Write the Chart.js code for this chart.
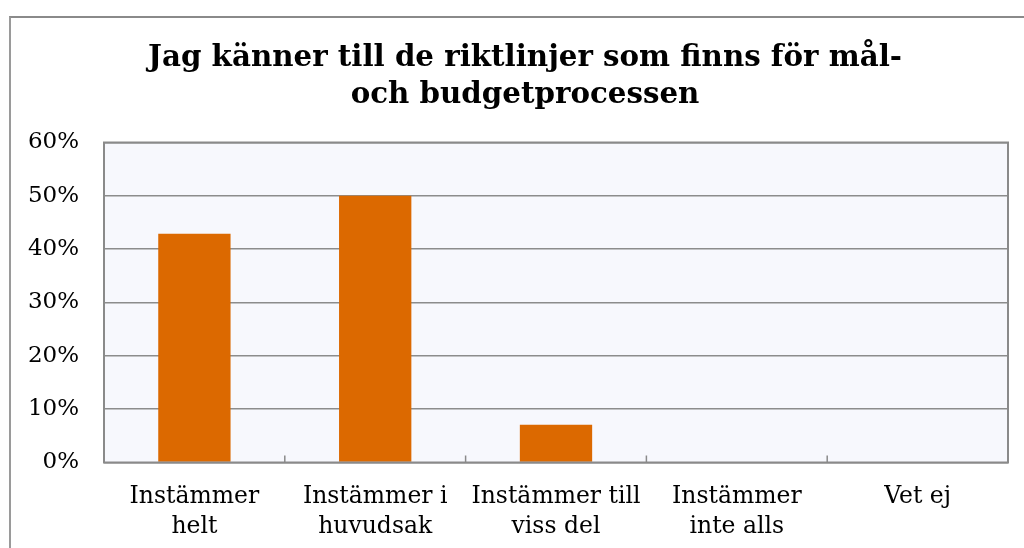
<!DOCTYPE html>
<html>
<head>
<meta charset="utf-8">
<script src="https://cdn.jsdelivr.net/npm/chart.js@4/dist/chart.umd.min.js"></script>
<style>
  html, body { margin: 0; padding: 0; background: #ffffff; }
  #wrap { position: relative; width: 1024px; height: 548px; overflow: hidden; }
  #frame { position: absolute; left: 9px; top: 16px; width: 1100px; height: 600px;
           border-top: 2px solid #8a8a8a; border-left: 2px solid #9a9a9a; box-sizing: border-box; }
  canvas { position: absolute; left: 0; top: 0; }
</style>
</head>
<body>
<div id="wrap">
  <div id="frame"></div>
  <canvas id="c" width="1024" height="548"></canvas>
</div>
<script>
const titleLines = ["Jag känner till de riktlinjer som finns för mål-", "och budgetprocessen"];
const categories = [["Instämmer", "helt"], ["Instämmer i", "huvudsak"], ["Instämmer till", "viss del"], ["Instämmer", "inte alls"], ["Vet ej"]];
const values = [42.9, 50.0, 7.1, 0, 0];
const yTicks = [0, 10, 20, 30, 40, 50, 60];

const FONT = "'DejaVu Serif', Georgia, serif";

const plotBox = {
  id: 'plotBox',
  afterLayout(chart) {
    // centre the title over the outer frame rather than the whole canvas
    if (chart.titleBlock) {
      chart.titleBlock.left = 42;
      chart.titleBlock.right = 1008;
      chart.titleBlock.width = 966;
    }
  },
  beforeDraw(chart) {
    const a = chart.chartArea, ctx = chart.ctx;
    ctx.save();
    ctx.fillStyle = '#f7f8fd';
    ctx.fillRect(a.left, a.top, a.right - a.left, a.bottom - a.top);
    ctx.restore();
  },
  afterDraw(chart) {
    const a = chart.chartArea, ctx = chart.ctx;
    const xs = chart.scales.x;
    ctx.save();
    ctx.strokeStyle = '#8a8a8a';
    ctx.lineWidth = 2;
    ctx.strokeRect(a.left, a.top, a.right - a.left, a.bottom - a.top);
    // inward tick marks at category boundaries
    ctx.lineWidth = 1.5;
    const n = categories.length;
    for (let i = 1; i < n; i++) {
      const x = (xs.getPixelForValue(i - 1) + xs.getPixelForValue(i)) / 2;
      ctx.beginPath();
      ctx.moveTo(x, a.bottom);
      ctx.lineTo(x, a.bottom - 7);
      ctx.stroke();
    }
    ctx.restore();
  }
};

new Chart(document.getElementById('c'), {
  type: 'bar',
  data: {
    labels: categories,
    datasets: [{
      data: values,
      backgroundColor: '#dc6900',
      borderWidth: 0,
      barPercentage: 0.4,
      categoryPercentage: 1.0
    }]
  },
  options: {
    responsive: false,
    animation: false,
    events: [],
    layout: { padding: { left: 0, right: 16, top: 39.5, bottom: 0 } },
    plugins: {
      legend: { display: false },
      tooltip: { enabled: false },
      title: {
        display: true,
        text: titleLines,
        color: '#000000',
        font: { family: FONT, size: 29.3, weight: 'bold', lineHeight: 1.28 },
        padding: { top: 0, bottom: 28 }
      }
    },
    scales: {
      x: {
        offset: true,
        grid: { display: false, drawTicks: false },
        border: { display: false },
        ticks: {
          color: '#000000',
          font: { family: FONT, size: 23.5, lineHeight: 1.27 },
          padding: 19.5,
          maxRotation: 0,
          autoSkip: false
        },
        afterFit(scale) { scale.height = 85.5; }
      },
      y: {
        min: 0,
        max: 60,
        afterBuildTicks(scale) { scale.ticks = yTicks.map(v => ({ value: v })); },
        grid: { color: '#8c8c8c', lineWidth: 1.5, drawTicks: false },
        border: { display: false },
        ticks: {
          color: '#000000',
          font: { family: FONT, size: 23 },
          padding: 25,
          callback: v => v + '%'
        },
        afterFit(scale) { scale.width = 104; }
      }
    }
  },
  plugins: [plotBox]
});
</script>
</body>
</html>
